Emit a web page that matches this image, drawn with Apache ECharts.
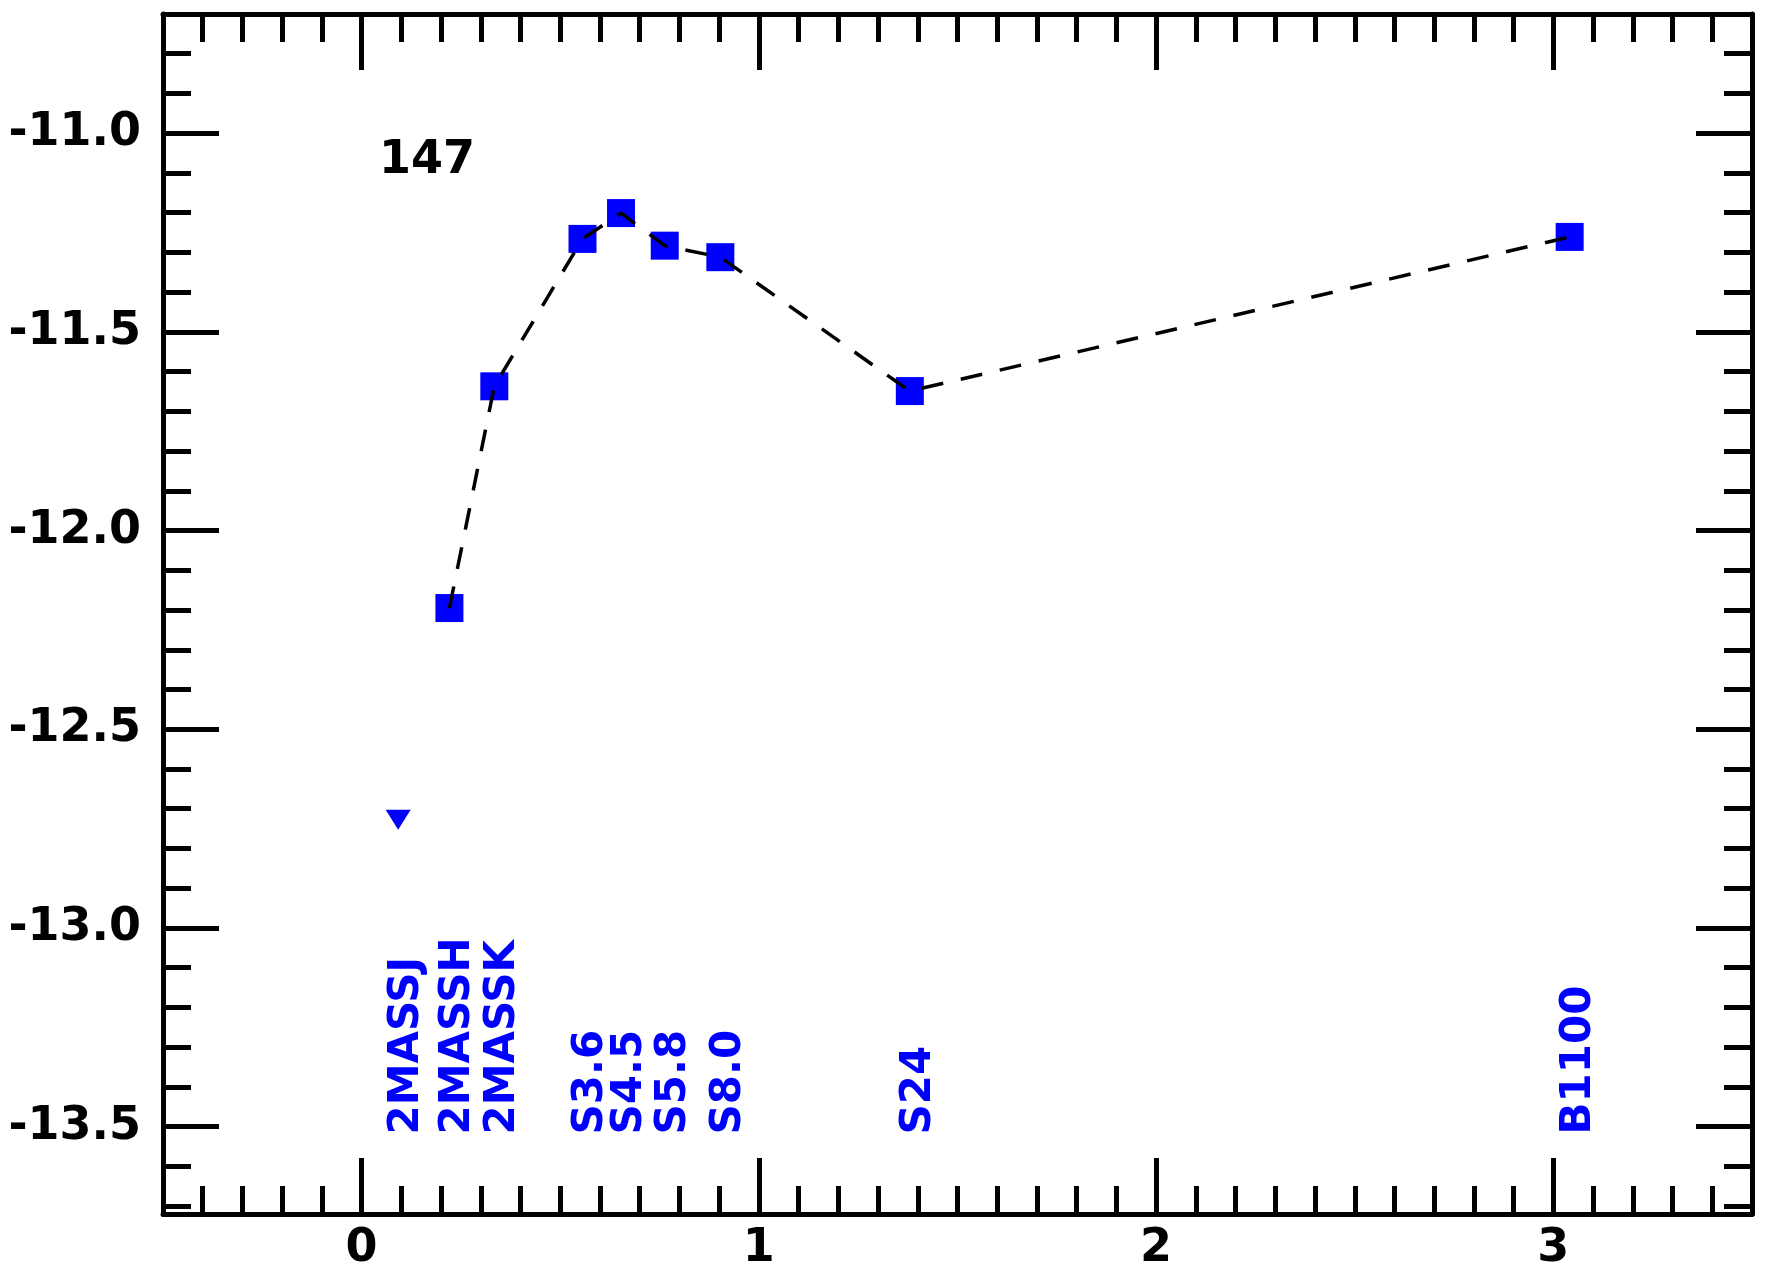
<!DOCTYPE html>
<html>
<head>
<meta charset="utf-8">
<script src="https://cdn.jsdelivr.net/npm/echarts@6/dist/echarts.min.js"></script>
<style>
  html, body { margin: 0; padding: 0; background: #fff; }
  #main { width: 1766px; height: 1275px; }
</style>
</head>
<body>
<div id="main"></div>
<script>
// log10(wavelength / micron) per band
const bandNames = ['2MASSJ', '2MASSH', '2MASSK', 'S3.6', 'S4.5', 'S5.8', 'S8.0', 'S24', 'B1100']
const logLambda = [0.092, 0.221, 0.334, 0.556, 0.653, 0.763, 0.903, 1.380, 3.041]
// log(nu F_nu); null where only an upper limit exists
const logFlux = [null, -12.195, -11.637, -11.266, -11.201, -11.283, -11.312, -11.649, -11.261]
const upperLimit = [-12.728, null, null, null, null, null, null, null, null]

const xMajor = [0, 1, 2, 3]
const yMajor = [-11.0, -11.5, -12.0, -12.5, -13.0, -13.5]
const sourceId = '147'
const labelLevel = -13.52

const X_MIN = -0.5, X_MAX = 3.5
const Y_MIN = -13.72, Y_MAX = -10.70
const FONT = 'DejaVu Sans'
const BLUE = '#0000ff'

function tenths(lo, hi) {
  const out = []
  for (let i = Math.ceil(lo * 10); i <= Math.floor(hi * 10); i++) out.push(i / 10)
  return out
}
const xMinor = tenths(X_MIN + 0.01, X_MAX - 0.01)
const yMinor = tenths(Y_MIN + 0.01, Y_MAX - 0.01)

const lineCol = '#000'

function makeAxis(pos, min, max, ticks, len, line, labels, fmt) {
  return {
    type: 'value',
    position: pos,
    min, max,
    axisLine: { show: line, onZero: false, lineStyle: { color: lineCol, width: 5 } },
    splitLine: { show: false },
    axisTick: {
      show: true,
      inside: true,
      length: len,
      customValues: ticks,
      lineStyle: { color: lineCol, width: 5 }
    },
    axisLabel: labels ? {
      show: true,
      customValues: ticks,
      color: '#000',
      fontFamily: FONT,
      fontWeight: 'bold',
      fontSize: 46,
      margin: pos === 'bottom' ? 12 : 22,
      formatter: fmt
    } : { show: false }
  }
}

const chart = echarts.init(document.getElementById('main'))

const linePts = []
const squarePts = []
const limitPts = []
const labelPts = []
logLambda.forEach((x, i) => {
  if (logFlux[i] != null) {
    linePts.push([x, logFlux[i]])
    squarePts.push([x, logFlux[i]])
  }
  if (upperLimit[i] != null) limitPts.push([x, upperLimit[i]])
  labelPts.push([x, labelLevel, bandNames[i]])
})

chart.setOption({
  animation: false,
  backgroundColor: '#fff',
  title: {
    text: sourceId,
    left: 374,
    top: 133,
    textStyle: { fontFamily: FONT, fontWeight: 'bold', fontSize: 46, color: '#000' }
  },
  grid: { left: 163, right: 14, top: 14, bottom: 61 },
  xAxis: [
    makeAxis('bottom', X_MIN, X_MAX, xMajor, 56, true, true, v => String(v)),
    makeAxis('bottom', X_MIN, X_MAX, xMinor, 28, false, false),
    makeAxis('top', X_MIN, X_MAX, xMajor, 56, true, false),
    makeAxis('top', X_MIN, X_MAX, xMinor, 28, false, false)
  ],
  yAxis: [
    makeAxis('left', Y_MIN, Y_MAX, yMajor, 56, true, true, v => v.toFixed(1)),
    makeAxis('left', Y_MIN, Y_MAX, yMinor, 28, false, false),
    makeAxis('right', Y_MIN, Y_MAX, yMajor, 56, true, false),
    makeAxis('right', Y_MIN, Y_MAX, yMinor, 28, false, false)
  ],
  series: [
    {
      type: 'scatter',
      data: squarePts,
      symbol: 'rect',
      symbolSize: 28,
      itemStyle: { color: BLUE, opacity: 1 },
      z: 2
    },
    {
      type: 'scatter',
      data: limitPts,
      symbol: 'triangle',
      symbolRotate: 180,
      symbolSize: [25, 20],
      itemStyle: { color: BLUE, opacity: 1 },
      z: 2
    },
    {
      type: 'line',
      data: linePts,
      showSymbol: false,
      symbol: 'none',
      lineStyle: { color: '#000', width: 3.5, type: [22, 18] },
      z: 5
    },
    {
      type: 'scatter',
      data: labelPts,
      symbolSize: 0,
      silent: true,
      itemStyle: { opacity: 1 },
      label: {
        show: true,
        position: [0, 0],
        rotate: 90,
        align: 'left',
        verticalAlign: 'middle',
        offset: [0, 9],
        formatter: p => p.data[2],
        color: BLUE,
        fontFamily: FONT,
        fontWeight: 'bold',
        fontSize: 42
      },
      z: 4
    }
  ]
})
</script>
</body>
</html>
